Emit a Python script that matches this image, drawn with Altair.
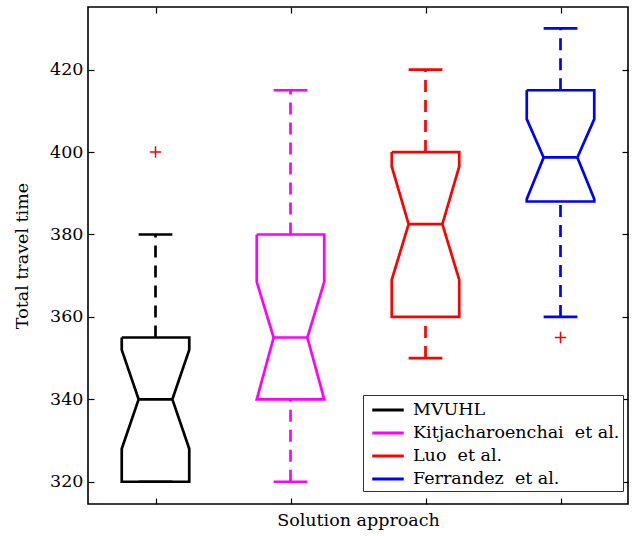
import altair as alt
import pandas as pd

groups = ["MVUHL", "Kitjacharoenchai\u00a0 et al.", "Luo\u00a0 et al.", "Ferrandez\u00a0 et al."]
colors = ["#000000", "#FF00FF", "#FF0000", "#0000FF"]
q1 = [320, 340, 360, 388]
q3 = [355, 380, 400, 415]
median = [340, 355, 382.5, 398.7]
notch_lo = [328, 340, 369, 388.6]
notch_hi = [352, 368.5, 396.5, 408]
whisk_lo = [320, 320, 350, 360]
whisk_hi = [380, 415, 420, 430]
out_group = [1, 4]
out_value = [400, 355]
y_ticks = [320, 340, 360, 380, 400, 420]

BW = 0.25   # half box width (x units)
NW = 0.125  # half notch width / cap half width
FONT = "DejaVu Serif"
FS = 17.5

rows = []
for i, g in enumerate(groups):
    c = i + 1
    verts = [
        (c - BW, q3[i]), (c + BW, q3[i]), (c + BW, notch_hi[i]), (c + NW, median[i]),
        (c + BW, notch_lo[i]), (c + BW, q1[i]), (c - BW, q1[i]), (c - BW, notch_lo[i]),
        (c - NW, median[i]), (c - BW, notch_hi[i]), (c - BW, q3[i]),
    ]
    for k, (x, y) in enumerate(verts):
        rows.append({"group": g, "x": x, "y": y, "k": k})
poly = pd.DataFrame(rows)

stats = pd.DataFrame({
    "group": groups, "pos": [1, 2, 3, 4], "q1": q1, "q3": q3, "median": median,
    "wlo": whisk_lo, "whi": whisk_hi,
})
stats["xl"] = stats["pos"] - NW
stats["xr"] = stats["pos"] + NW

outl = pd.DataFrame({"pos": out_group, "value": out_value})

xscale = alt.Scale(domain=[0.5, 4.5], nice=False, zero=False)
yscale = alt.Scale(domain=[314.6, 435.2], nice=False, zero=False)
cscale = alt.Scale(domain=groups, range=colors)

x_axis = alt.Axis(values=[1, 2, 3, 4], labels=False, domain=False, grid=False,
                  tickSize=6, offset=-6, tickColor="black", tickWidth=1.2,
                  title="Solution approach", titleFont=FONT, titleFontSize=FS,
                  titleFontWeight="normal", titlePadding=7, titleColor="black")
y_axis = alt.Axis(values=y_ticks, domain=False, grid=False, tickSize=6, offset=-6,
                  tickColor="black", tickWidth=1.2, labelPadding=5,
                  labelFont=FONT, labelFontSize=FS, labelColor="black",
                  title="Total travel time", titleFont=FONT, titleFontSize=FS,
                  titleFontWeight="normal", titlePadding=18, titleColor="black")

outline = alt.Chart(poly).mark_line(strokeWidth=2.7).encode(
    x=alt.X("x:Q", scale=xscale, axis=x_axis),
    y=alt.Y("y:Q", scale=yscale, axis=y_axis),
    color=alt.Color("group:N", scale=cscale, legend=alt.Legend(
        title=None, orient="none", legendX=275, legendY=388,
        symbolType="M-1.5,0L1.5,0", symbolSize=441, symbolStrokeWidth=3,
        symbolOffset=10,
        labelFont=FONT, labelFontSize=FS, labelColor="black", labelOffset=13,
        rowPadding=2, padding=3, strokeColor="#333333", fillColor="white",
        labelLimit=400)),
    order="k:Q",
    detail="group:N",
)

def cenc(**kw):
    return dict(color=alt.Color("group:N", scale=cscale, legend=None), **kw)

med_rule = alt.Chart(stats).mark_rule(strokeWidth=2.7).encode(
    **cenc(x=alt.X("xl:Q", axis=None), x2="xr:Q", y=alt.Y("median:Q", axis=None))
)
whisk_up = alt.Chart(stats).mark_rule(strokeWidth=2.7, strokeDash=[12, 8]).encode(
    **cenc(x=alt.X("pos:Q", axis=None), y=alt.Y("q3:Q", axis=None), y2="whi:Q")
)
whisk_dn = alt.Chart(stats).mark_rule(strokeWidth=2.7, strokeDash=[12, 8]).encode(
    **cenc(x=alt.X("pos:Q", axis=None), y=alt.Y("wlo:Q", axis=None), y2="q1:Q")
)
cap_up = alt.Chart(stats).mark_rule(strokeWidth=2.7).encode(
    **cenc(x=alt.X("xl:Q", axis=None), x2="xr:Q", y=alt.Y("whi:Q", axis=None))
)
cap_dn = alt.Chart(stats).mark_rule(strokeWidth=2.7).encode(
    **cenc(x=alt.X("xl:Q", axis=None), x2="xr:Q", y=alt.Y("wlo:Q", axis=None))
)

x_axis2 = alt.Axis(orient="top", values=[1, 2, 3, 4], labels=False, domain=False,
                   grid=False, tickSize=6, offset=-6, tickColor="black", tickWidth=1.2,
                   title=None)
y_axis2 = alt.Axis(orient="right", values=y_ticks, labels=False, domain=False,
                   grid=False, tickSize=6, offset=-6, tickColor="black", tickWidth=1.2,
                   title=None)

outliers = alt.Chart(outl).mark_point(
    shape="M-1,0L1,0M0,-1L0,1", filled=False, color="#FF0000", strokeWidth=1.5,
    size=130, opacity=1,
).encode(
    x=alt.X("pos:Q", scale=xscale, axis=x_axis2),
    y=alt.Y("value:Q", scale=yscale, axis=y_axis2),
)

chart = alt.layer(outline, med_rule, whisk_up, whisk_dn, cap_up, cap_dn, outliers).resolve_axis(
    x="independent", y="independent"
).properties(
    width=540, height=497,
    autosize=alt.AutoSizeParams(type="none"),
    padding={"left": 88, "top": 7, "right": 10, "bottom": 32},
    background="white",
).configure_view(stroke="black", strokeWidth=1.6)

chart.save("out.html", embed_options={"renderer": "svg", "actions": False})
